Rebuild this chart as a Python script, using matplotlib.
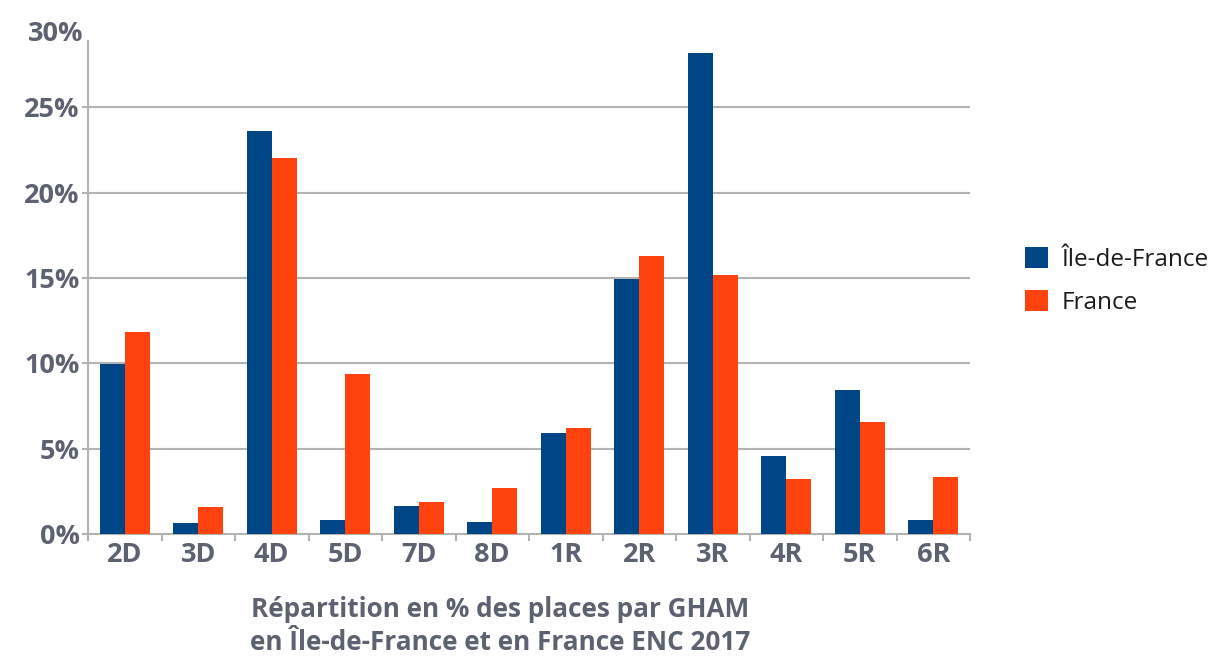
import numpy as np
import matplotlib.pyplot as plt

categories = ['2D', '3D', '4D', '5D', '7D', '8D', '1R', '2R', '3R', '4R', '5R', '6R']
idf = [9.96, 0.63, 23.62, 0.84, 1.66, 0.72, 5.9, 14.97, 28.17, 4.6, 8.44, 0.84]
france = [11.82, 1.59, 22.01, 9.38, 1.89, 2.71, 6.21, 16.27, 15.2, 3.2, 6.56, 3.32]
yticks = [0, 5, 10, 15, 20, 25]
ytick_labels = ['0%', '5%', '10%', '15%', '20%', '25%']
top_label = '30%'

blue = '#004586'
orange = '#ff420e'
grey_txt = '#5d6271'
grid_col = '#b3b3b3'
font = 'Open Sans'

fig = plt.figure(figsize=(12.13, 6.57), dpi=100)
ax = fig.add_axes([88 / 1213, 123 / 657, 882 / 1213, 500 / 657])

x = np.arange(len(categories))
w = 0.34
b1 = ax.bar(x - w / 2, idf, w, color=blue, label='Île-de-France', zorder=3)
b2 = ax.bar(x + w / 2, france, w, color=orange, label='France', zorder=3)

ax.set_xlim(-0.5, len(categories) - 0.5)
ax.set_ylim(0, 29.3)

for v in yticks[1:]:
    ax.axhline(v, color=grid_col, lw=1.5, zorder=1)

ax.set_yticks(yticks)
ax.set_yticklabels(ytick_labels, fontsize=19.5, fontweight='bold',
                   color=grey_txt, family=font)
ax.tick_params(axis='y', length=4, width=1.5, color=grid_col, pad=2)
# the 30% label sits at the cropped top of the axis
ax.text(-0.005, 1.0, top_label, transform=ax.transAxes, ha='right', va='center',
        fontsize=19.5, fontweight='bold', color=grey_txt, family=font)

ax.set_xticks(x)
ax.set_xticklabels(categories, fontsize=19.5, fontweight='bold', color=grey_txt, family=font)
ax.tick_params(axis='x', length=0, pad=6)
ax.set_xticks(np.arange(-0.5, len(categories)), minor=True)
ax.tick_params(axis='x', which='minor', length=5, width=1.5, color=grid_col)

for s in ['top', 'right']:
    ax.spines[s].set_visible(False)
for s in ['left', 'bottom']:
    ax.spines[s].set_color(grid_col)
    ax.spines[s].set_linewidth(1.5)
ax.spines['left'].set_bounds(0, 28.9)

fig.text(500 / 1213, 31 / 657, 'Répartition en % des places par GHAM\nen Île-de-France et en France ENC 2017',
         ha='center', va='center', fontsize=18.8, fontweight='bold', color=grey_txt,
         linespacing=1.3, family=font)

leg = fig.legend(handles=[b1, b2], loc='center left', bbox_to_anchor=(1003 / 1213, 376 / 657),
                 frameon=False, handlelength=0.95, handleheight=0.95,
                 handletextpad=0.55, labelspacing=0.72, prop={'family': font, 'size': 17.5})
for t in leg.get_texts():
    t.set_color('#1a1a1a')

fig.savefig('out.png', dpi=100)
